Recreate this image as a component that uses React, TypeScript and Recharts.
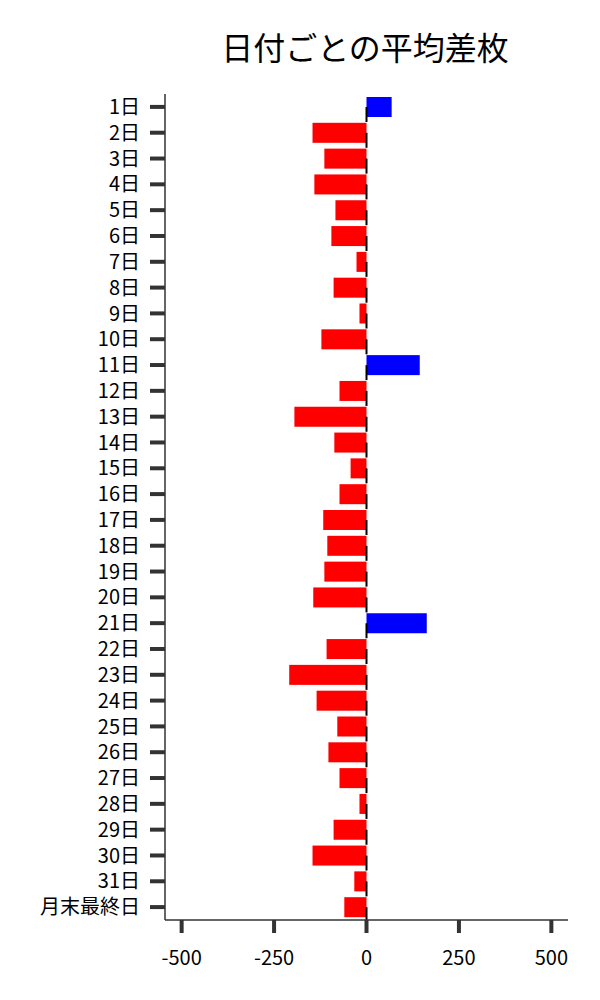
import React from 'react';
import { BarChart, Bar, XAxis, YAxis, Cell } from 'recharts';

const days = [
  '1日', '2日', '3日', '4日', '5日', '6日', '7日', '8日', '9日', '10日',
  '11日', '12日', '13日', '14日', '15日', '16日', '17日', '18日', '19日', '20日',
  '21日', '22日', '23日', '24日', '25日', '26日', '27日', '28日', '29日', '30日',
  '31日', '月末最終日',
];

const avgDiff = [
  68, -146, -114, -141, -84, -95, -27, -89, -19, -122,
  144, -73, -195, -87, -43, -73, -117, -106, -114, -144,
  163, -108, -209, -135, -79, -103, -73, -19, -89, -146,
  -33, -60,
];

const xTicks = [-500, -250, 0, 250, 500];

const data = days.map((day, i) => ({ day, value: avgDiff[i] }));

const FONT = '"Noto Sans CJK JP", "Noto Sans", sans-serif';

// bar plus the short black mark at zero
function BarWithMark(props: any) {
  const { x, y, width, height, fill, payload } = props;
  const left = Math.min(x, x + width);
  const w = Math.abs(width);
  const v = payload.value;
  const zero = v >= 0 ? left : left + w;
  const cy = y + height / 2;
  return (
    <g>
      <rect x={left} y={y} width={w} height={height} fill={fill} />
      <line x1={zero} x2={zero} y1={cy} y2={cy + 15} stroke="#000" strokeWidth={2} />
    </g>
  );
}

export default function App() {
  return (
    <div style={{ width: 584, fontFamily: FONT }}>
      <BarChart
        width={584}
        height={984}
        data={data}
        layout="vertical"
        margin={{ top: 86, right: 24, bottom: 42, left: 0 }}
        barCategoryGap={3}
      >
        <text x={357} y={52} textAnchor="middle" fontSize={32} fill="#000" fontFamily={FONT}>
          日付ごとの平均差枚
        </text>
        <XAxis
          type="number"
          domain={[-545, 545]}
          ticks={xTicks}
          allowDataOverflow
          height={30}
          axisLine={{ stroke: '#333', strokeWidth: 1.5 }}
          tickLine={{ stroke: '#333', strokeWidth: 4 }}
          tickSize={13}
          tickMargin={18}
          tick={{ fill: '#000', fontSize: 20, fontFamily: FONT }}
        />
        <YAxis
          type="category"
          dataKey="day"
          width={157}
          interval={0}
          axisLine={{ stroke: '#333', strokeWidth: 1.5 }}
          tickLine={{ stroke: '#333', strokeWidth: 4 }}
          tickSize={15}
          tickMargin={10}
          tick={{ fill: '#000', fontSize: 20, fontFamily: FONT }}
        />
        <Bar dataKey="value" isAnimationActive={false} shape={<BarWithMark />}>
          {data.map((d, i) => (
            <Cell key={i} fill={d.value >= 0 ? '#0000ff' : '#ff0000'} />
          ))}
        </Bar>
      </BarChart>
    </div>
  );
}
